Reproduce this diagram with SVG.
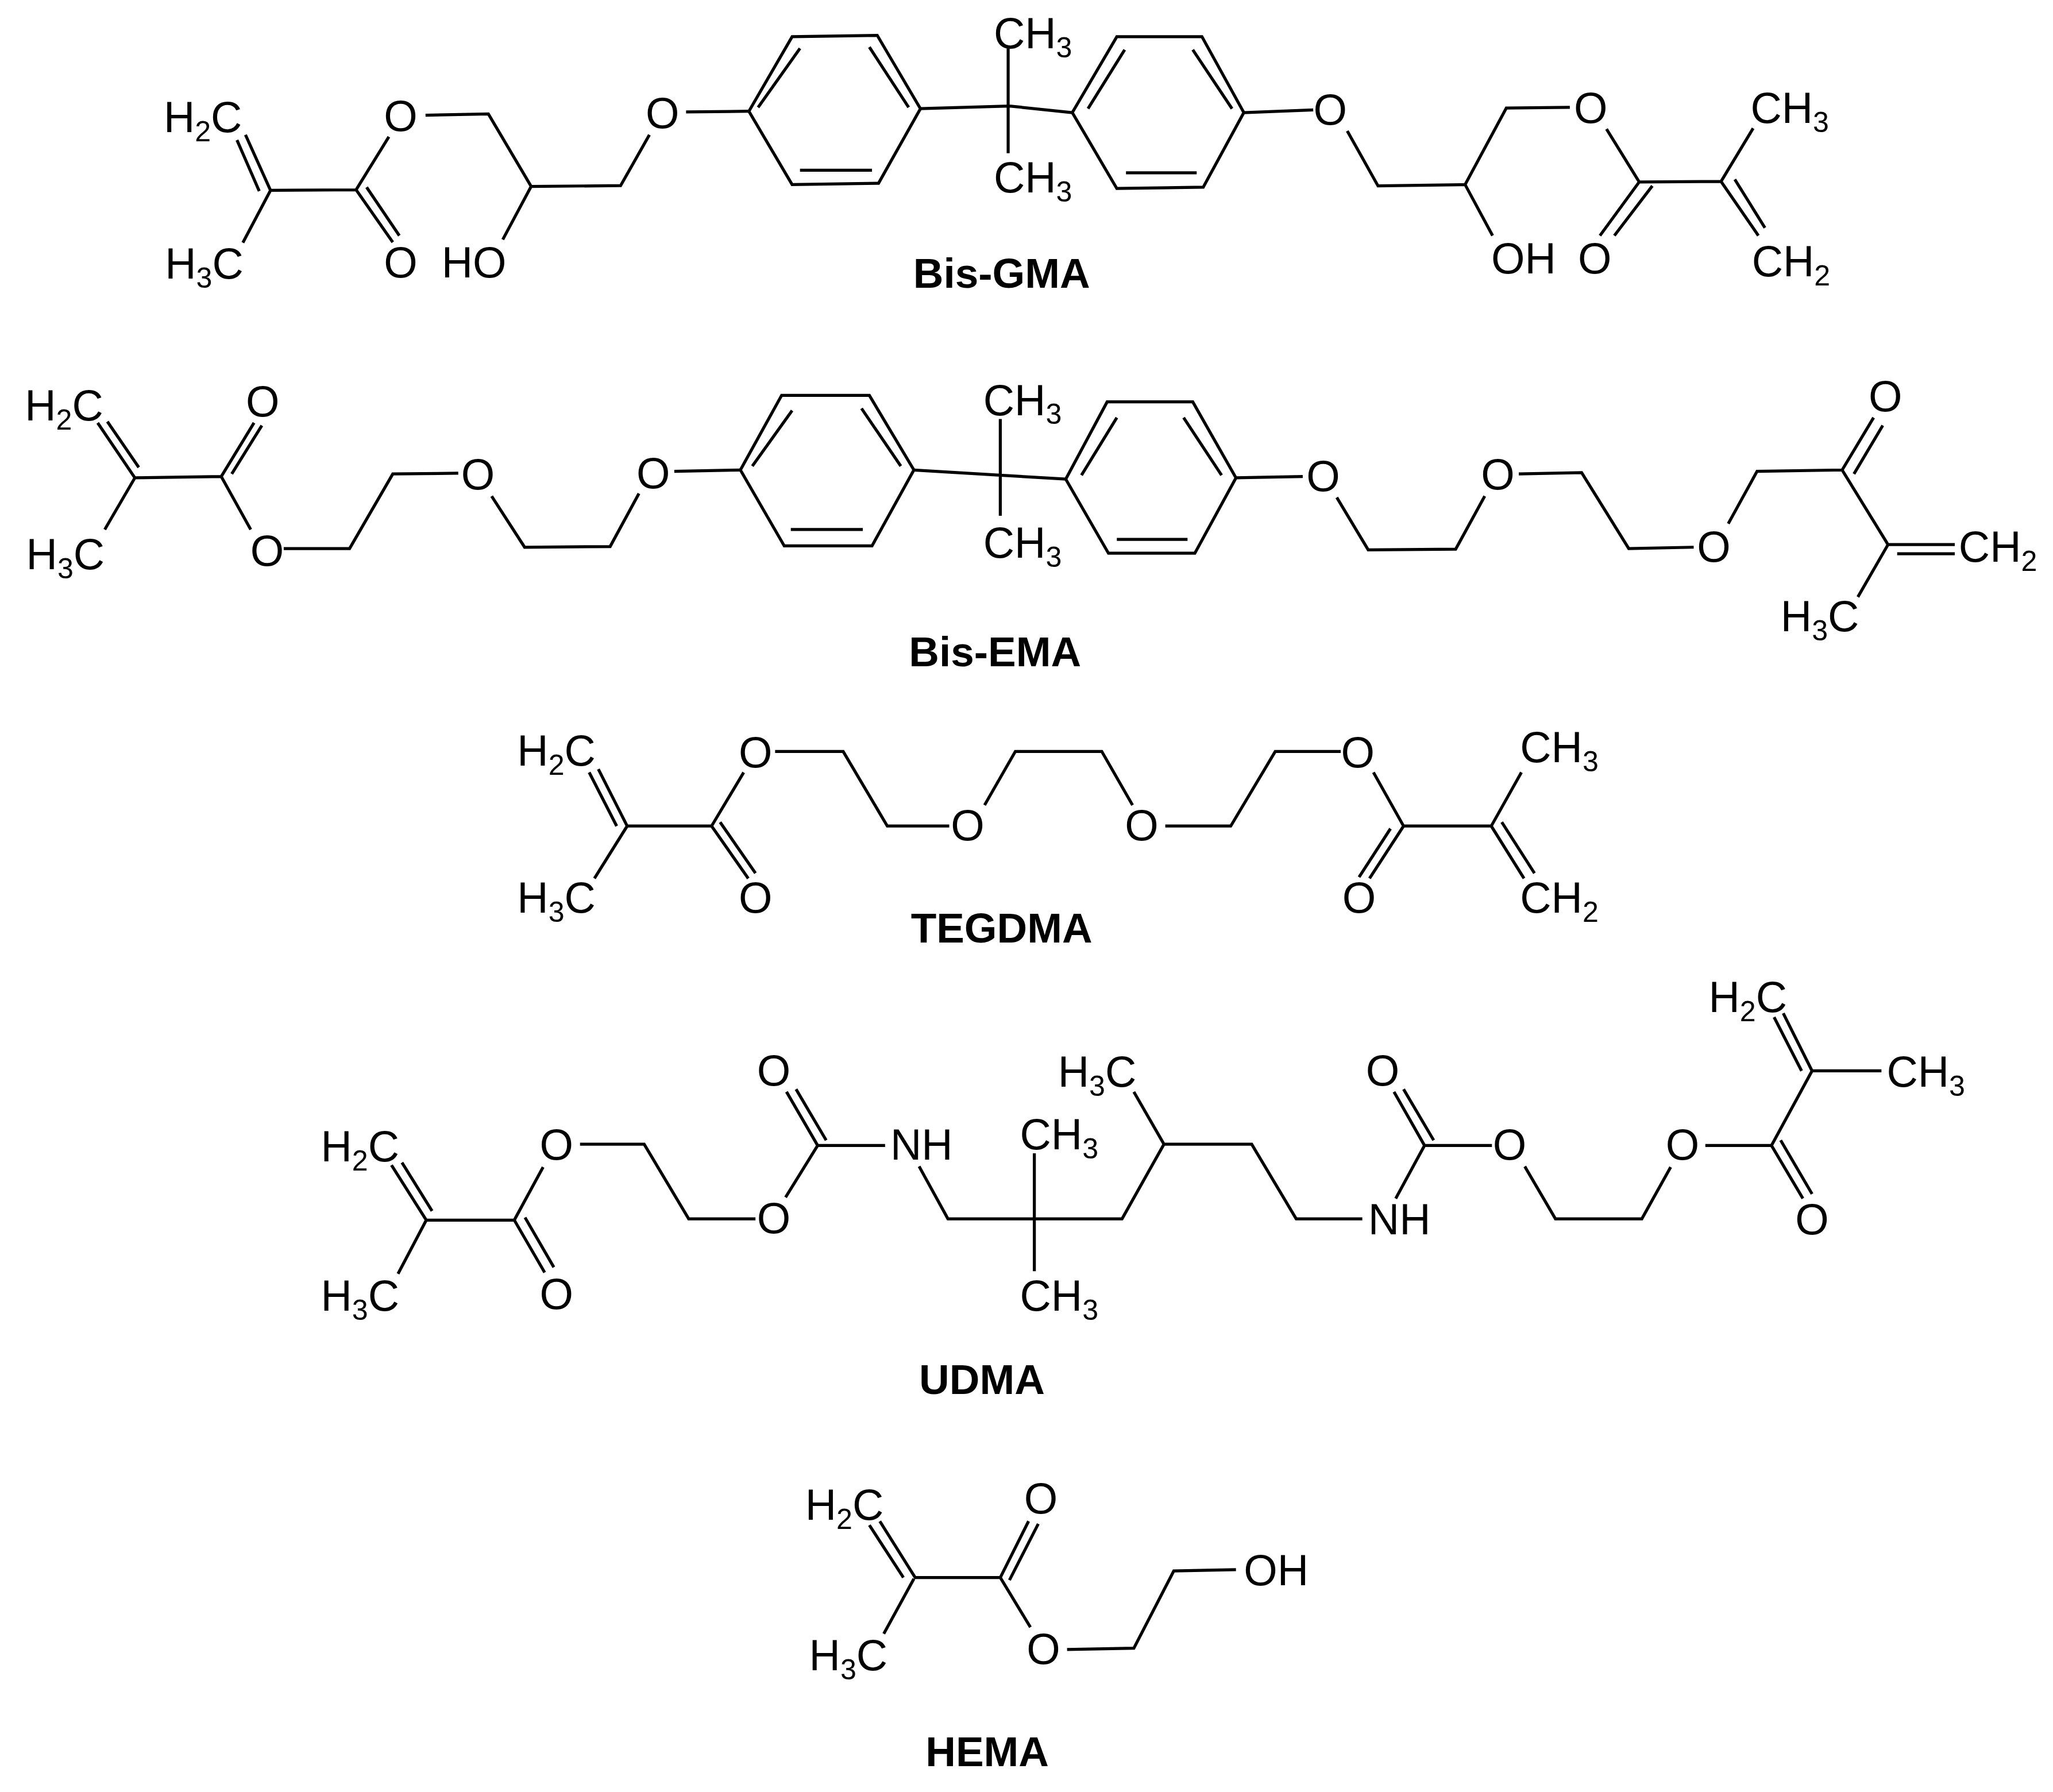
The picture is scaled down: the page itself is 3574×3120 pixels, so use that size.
<svg xmlns="http://www.w3.org/2000/svg" width="3574" height="3120" viewBox="0 0 3574 3120">
<style>
.b{fill:none;stroke:#000;stroke-width:2.3;stroke-linejoin:miter;stroke-linecap:butt}
text{font-family:"Liberation Sans",Arial,sans-serif;font-size:33px;fill:#000}
.m{text-anchor:middle}
.s{font-size:22px}
.lb{font-weight:bold;font-size:32px;text-anchor:middle}
</style>
<rect width="3574" height="3120" fill="#fff"/>
<g transform="scale(2.2793)">
<g id="connectors">
<!-- Bis-GMA -->
<path class="b" d="M187.5,103 L206.6,145.4 L272,145 L297,104.5 M181,107 L198,146 M206.6,145.4 L185.5,185.4 M272,145 L300,185 M280,143 L305,180 M325,88 L373,87 L405.7,142.4 L474,141.8 L496,103 M405.7,142.4 L384,183 M524,85.5 L572,85"/>
<path class="b" d="M572,85 L605,28 L670,27 L703,83 L671,140 L605,141 Z M579,82 L611,37 M664,36 L694,82 M611,130 L666,130"/>
<path class="b" d="M703,83 L771,81 L819,86 M770,37 L770,117"/>
<path class="b" d="M819,86 L853,28 L918,28 L950,86 L919,143 L853,144 Z M831,83 L859,38 M911,38 L941,83 M860,132 L914,132"/>
<path class="b" d="M950,86 L1003,84 M1029,100 L1052.5,142 L1119,141 L1150.5,82.5 L1199,82 M1119,141 L1140,180 M1227,98.5 L1252,139 L1314.5,138.6 L1339,98 M1252,139 L1222,180 M1262,142 L1233,180 M1314.5,138.6 L1343,180 M1325,137 L1348,174"/>
<!-- Bis-EMA -->
<path class="b" d="M74.6,323 L103,365 L169,364 L194,323 M82,322 L106,357 M177,362 L200,325 M103,365 L80,404.5 M169,364 L191.5,404.5 M216.7,419 L267,419 L300,362 L350,361.5 M375.5,379 L400.7,418 L466,417.5 L488,377 M515,360 L565.5,359"/>
<path class="b" d="M565.5,359 L597,302 L664,302 L698,359 L666,417 L599,417 Z M574.6,356 L605,313.6 M658,312 L688,356 M604,404.5 L659,404.5"/>
<path class="b" d="M698,359 L764,363 L814,366 M764,320 L764,394"/>
<path class="b" d="M814,366 L845.6,307 L911,307 L944,365 L912.6,422.6 L846.6,422.6 Z M826,363 L853,319 M904,319 L933,363 M853,412 L907,412"/>
<path class="b" d="M944,365 L995,364 M1021,380 L1045,420 L1111.8,419.5 L1134,379 M1160,362 L1208,361 L1244,419 L1293.6,418 M1320,400 L1342,360 L1407,359 L1431,319 M1416,362 L1438,325 M1407,359 L1442,416 L1493,416 M1449,423 L1493,423 M1442,416 L1419,456"/>
<!-- TEGDMA -->
<path class="b" d="M457,587.5 L479,631 L543.5,631 L568,590 M450,590 L471,631 M479,631 L454,671 M543.5,631 L571.5,671 M550,628 L577,667 M592,574 L644,574 L677.7,631 L725,631 M752,615 L775.5,574 L841.5,574 L865,615 M890,631 L940,631 L974,574 L1024,574 M1049,590 L1072,631 L1139,631 L1162,590 M1072,631 L1046,671 M1062,633 L1038,670 M1139,631 L1164,671 M1147,628 L1172,667"/>
<!-- UDMA -->
<path class="b" d="M299,890 L325.6,932 L392.8,932 L414.8,891.5 M307,888 L330,925 M325.6,932 L304,973 M392.8,932 L416,972 M401,930 L423,968 M443,874 L492,874 L526,931 L577,931 M600,914.6 L624.5,875 L676,875 M624.5,875 L600.7,834 M631,871 L608,832 M702,891 L724,931 L790,931 L857,931 L889,874 L956,874 L990,931 L1040.5,931 M790,881 L790,971 M889,874 L866,834 M1066,915.5 L1088,875 L1139.5,875 M1088,875 L1064.7,834 M1095,871 L1072,832 M1164.6,891 L1188,931 L1254,931 L1276,891.5 M1302.5,875 L1353,875 L1377,915.5 M1360,871 L1384,912 M1353,875 L1384,818 L1437,818 M1384,818 L1362,774 M1376,818 L1355,777"/>
<!-- HEMA -->
<path class="b" d="M672,1162 L699,1205 L764,1205 L785.6,1162 M664,1165 L690,1205 M771,1207 L793,1164 M698,1206 L675,1248 M764,1205 L787,1243 M815,1260 L866,1259 L896.5,1200 L944,1199"/>
</g>
<g id="bisgma">
<text x="125" y="101">H<tspan class="s" dy="7">2</tspan><tspan dy="-7">C</tspan></text>
<text x="126" y="213">H<tspan class="s" dy="7">3</tspan><tspan dy="-7">C</tspan></text>
<text class="m" x="306" y="100">O</text>
<text class="m" x="306" y="212">O</text>
<text class="m" x="362" y="212">HO</text>
<text class="m" x="506" y="98">O</text>
<text x="759" y="37">CH<tspan class="s" dy="7">3</tspan></text>
<text x="759" y="147">CH<tspan class="s" dy="7">3</tspan></text>
<text class="m" x="1016" y="95">O</text>
<text x="1139" y="209">OH</text>
<text class="m" x="1215" y="94">O</text>
<text class="m" x="1218" y="209">O</text>
<text x="1337" y="94">CH<tspan class="s" dy="7">3</tspan></text>
<text x="1338" y="211">CH<tspan class="s" dy="7">2</tspan></text>
<text class="lb" x="765" y="220">Bis-GMA</text>
</g>
<g id="bisema">
<text x="19" y="321">H<tspan class="s" dy="7">2</tspan><tspan dy="-7">C</tspan></text>
<text x="20" y="435">H<tspan class="s" dy="7">3</tspan><tspan dy="-7">C</tspan></text>
<text class="m" x="200.6" y="318">O</text>
<text class="m" x="204" y="432">O</text>
<text class="m" x="365" y="374">O</text>
<text class="m" x="499" y="373">O</text>
<text x="751" y="317">CH<tspan class="s" dy="7">3</tspan></text>
<text x="751" y="426">CH<tspan class="s" dy="7">3</tspan></text>
<text class="m" x="1010.6" y="375">O</text>
<text class="m" x="1144" y="374">O</text>
<text class="m" x="1309" y="429">O</text>
<text class="m" x="1440" y="314">O</text>
<text x="1496" y="429">CH<tspan class="s" dy="7">2</tspan></text>
<text x="1360" y="482">H<tspan class="s" dy="7">3</tspan><tspan dy="-7">C</tspan></text>
<text class="lb" x="760" y="509">Bis-EMA</text>
</g>
<g id="tegdma">
<text x="395" y="585">H<tspan class="s" dy="7">2</tspan><tspan dy="-7">C</tspan></text>
<text x="395" y="697">H<tspan class="s" dy="7">3</tspan><tspan dy="-7">C</tspan></text>
<text class="m" x="577" y="586">O</text>
<text class="m" x="577" y="697">O</text>
<text class="m" x="739" y="642">O</text>
<text class="m" x="872" y="642">O</text>
<text class="m" x="1037" y="586">O</text>
<text class="m" x="1038" y="697">O</text>
<text x="1161" y="582">CH<tspan class="s" dy="7">3</tspan></text>
<text x="1161" y="697">CH<tspan class="s" dy="7">2</tspan></text>
<text class="lb" x="765" y="720">TEGDMA</text>
</g>
<g id="udma">
<text x="245" y="887">H<tspan class="s" dy="7">2</tspan><tspan dy="-7">C</tspan></text>
<text x="245" y="1001">H<tspan class="s" dy="7">3</tspan><tspan dy="-7">C</tspan></text>
<text class="m" x="425" y="886">O</text>
<text class="m" x="425" y="1000">O</text>
<text class="m" x="591" y="942">O</text>
<text class="m" x="591" y="829">O</text>
<text x="680" y="886">NH</text>
<text x="779" y="878">CH<tspan class="s" dy="7">3</tspan></text>
<text x="779" y="1001">CH<tspan class="s" dy="7">3</tspan></text>
<text x="808" y="830">H<tspan class="s" dy="7">3</tspan><tspan dy="-7">C</tspan></text>
<text x="1045" y="943">NH</text>
<text class="m" x="1056" y="829">O</text>
<text class="m" x="1153" y="886">O</text>
<text class="m" x="1285" y="886">O</text>
<text class="m" x="1384" y="943">O</text>
<text x="1441" y="830">CH<tspan class="s" dy="7">3</tspan></text>
<text x="1305" y="773">H<tspan class="s" dy="7">2</tspan><tspan dy="-7">C</tspan></text>
<text class="lb" x="750" y="1065">UDMA</text>
</g>
<g id="hema">
<text x="615" y="1161">H<tspan class="s" dy="7">2</tspan><tspan dy="-7">C</tspan></text>
<text x="618" y="1276">H<tspan class="s" dy="7">3</tspan><tspan dy="-7">C</tspan></text>
<text class="m" x="795" y="1156">O</text>
<text class="m" x="797" y="1271">O</text>
<text x="950" y="1211">OH</text>
<text class="lb" x="754" y="1349">HEMA</text>
</g>
</g>
</svg>
